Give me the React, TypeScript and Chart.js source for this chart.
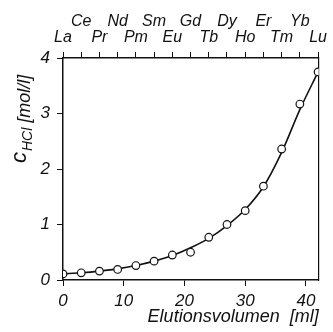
import React, { useEffect, useRef } from "react";
import { Chart, registerables } from "chart.js";

Chart.register(...registerables);

const elements = ["La", "Ce", "Pr", "Nd", "Pm", "Sm", "Eu", "Gd", "Tb", "Dy", "Ho", "Er", "Tm", "Yb", "Lu"];
const volumes = [0, 3, 6, 9, 12, 15, 18, 21, 24, 27, 30, 33, 36, 39, 42];
const concentrations = [0.11, 0.13, 0.16, 0.19, 0.26, 0.34, 0.45, 0.5, 0.77, 1.0, 1.25, 1.69, 2.36, 3.17, 3.75];
const fitValues = [0.11, 0.13, 0.16, 0.2, 0.26, 0.34, 0.44, 0.58, 0.75, 0.98, 1.27, 1.68, 2.3, 3.07, 3.75];
const xTicks = [0, 10, 20, 30, 40];
const yTicks = [0, 1, 2, 3, 4];
const xTitle = "Elutionsvolumen  [ml]";
const yTitleMain = "c";
const yTitleSub = "HCl";
const yTitleUnit = "[mol/l]";

const FONT = '"Liberation Sans", Arial, sans-serif';
const INK = "#111";

const yTitlePlugin = {
  id: "yTitlePlugin",
  afterDraw(chart: any) {
    const ctx = chart.ctx;
    ctx.save();
    ctx.fillStyle = INK;
    ctx.textBaseline = "alphabetic";
    ctx.textAlign = "left";
    ctx.translate(0, 163);
    ctx.rotate(-Math.PI / 2);
    ctx.font = `italic 22px ${FONT}`;
    ctx.fillText(yTitleMain, 0, 26);
    let w = ctx.measureText(yTitleMain).width + 1;
    ctx.font = `italic 14px ${FONT}`;
    ctx.fillText(yTitleSub, w, 32);
    w += ctx.measureText(yTitleSub).width + 5;
    ctx.font = `italic 18px ${FONT}`;
    ctx.fillText(yTitleUnit, w, 30);
    ctx.restore();
  },
};

export default function App() {
  const ref = useRef<HTMLCanvasElement | null>(null);

  useEffect(() => {
    document.body.style.margin = "0";
    document.body.style.background = "#fff";
    if (!ref.current) return;
    const chart = new Chart(ref.current, {
      type: "scatter",
      data: {
        datasets: [
          {
            label: "fit",
            data: volumes.map((v, i) => ({ x: v, y: fitValues[i] })),
            showLine: true,
            borderColor: INK,
            borderWidth: 1.6,
            pointRadius: 0,
            cubicInterpolationMode: "monotone",
            xAxisID: "x",
            yAxisID: "y",
            order: 2,
          },
          {
            label: "data",
            data: volumes.map((v, i) => ({ x: v, y: concentrations[i] })),
            showLine: false,
            pointRadius: 3.8,
            pointBackgroundColor: "#fff",
            pointBorderColor: INK,
            pointBorderWidth: 1.2,
            xAxisID: "x",
            yAxisID: "y",
            order: 1,
          },
        ],
      },
      options: {
        animation: false,
        responsive: true,
        maintainAspectRatio: false,
        layout: { padding: 0 },
        plugins: {
          legend: { display: false },
          tooltip: { enabled: false },
        },
        scales: {
          x: {
            type: "linear",
            position: "bottom",
            min: 0,
            max: 42.1,
            afterBuildTicks: (s: any) => {
              s.ticks = xTicks.map((v) => ({ value: v }));
            },
            afterFit: (s: any) => {
              s.height = 52;
            },
            ticks: {
              color: INK,
              padding: 5,
              maxRotation: 0,
              autoSkip: false,
              font: { family: FONT, style: "italic", size: 17 },
            },
            grid: { drawOnChartArea: false, tickLength: 6, color: INK, tickWidth: 1 },
            border: { display: true, color: INK, width: 1.5 },
            title: {
              display: true,
              text: xTitle,
              align: "end",
              color: INK,
              padding: { top: 0, bottom: 4 },
              font: { family: FONT, style: "italic", size: 18 },
            },
          },
          x2: {
            type: "linear",
            position: "top",
            min: 0,
            max: 42.1,
            afterBuildTicks: (s: any) => {
              s.ticks = volumes.map((v) => ({ value: v }));
            },
            afterFit: (s: any) => {
              s.height = 58;
            },
            ticks: {
              color: INK,
              padding: 6,
              maxRotation: 0,
              autoSkip: false,
              font: { family: FONT, style: "italic", size: 16, lineHeight: 1.0 },
              callback: (value: any) => {
                const i = volumes.indexOf(Number(value));
                if (i < 0) return "";
                return i % 2 === 0 ? ["", elements[i]] : [elements[i], ""];
              },
            },
            grid: { drawOnChartArea: false, tickLength: 6, color: INK, tickWidth: 1 },
            border: { display: true, color: INK, width: 1.5 },
          },
          y: {
            type: "linear",
            position: "left",
            min: 0,
            max: 4,
            afterBuildTicks: (s: any) => {
              s.ticks = yTicks.map((v) => ({ value: v }));
            },
            afterFit: (s: any) => {
              s.width = 63;
            },
            ticks: {
              color: INK,
              padding: 7,
              font: { family: FONT, style: "italic", size: 17 },
            },
            grid: { drawOnChartArea: false, tickLength: 6, color: INK, tickWidth: 1 },
            border: { display: true, color: INK, width: 1.5 },
          },
          y2: {
            type: "linear",
            position: "right",
            min: 0,
            max: 4,
            afterFit: (s: any) => {
              s.width = 10;
            },
            ticks: { display: false },
            grid: { drawOnChartArea: false, drawTicks: false },
            border: { display: true, color: INK, width: 1.2 },
          },
        },
      },
      plugins: [yTitlePlugin],
    } as any);
    return () => chart.destroy();
  }, []);

  return (
    <div style={{ position: "relative", width: 333, height: 332, background: "#fff" }}>
      <canvas ref={ref} />
    </div>
  );
}
